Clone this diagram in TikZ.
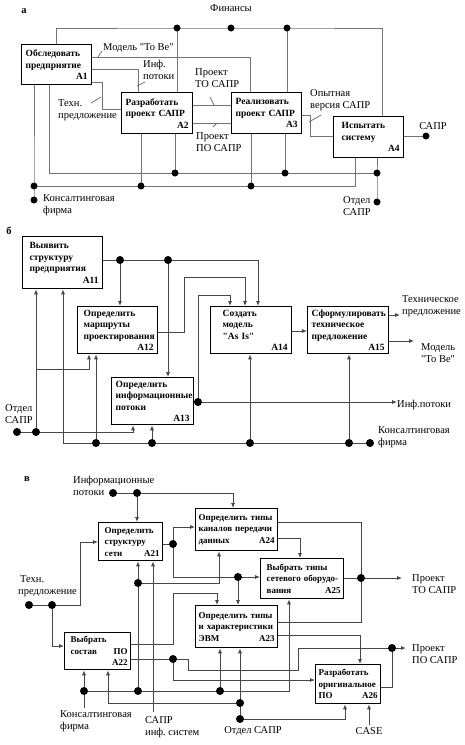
\documentclass[tikz,border=0pt]{standalone}
\usepackage{fontspec}
\setmainfont{Liberation Serif}[Ligatures=TeXOff]
\usetikzlibrary{arrows.meta}

\tikzset{
  blk/.style={draw, line width=1.3pt, anchor=north west, inner xsep=4pt,
    inner ysep=1pt, align=left, font=\bfseries\fontsize{9.5}{11.5}\selectfont},
  blkc/.style={blk, inner xsep=3pt, font=\bfseries\fontsize{9}{11.5}\selectfont},
  lbl/.style={inner sep=0pt, align=left, font=\fontsize{10.5}{12.5}\selectfont},
  ptag/.style={inner sep=0pt, font=\bfseries\fontsize{10.5}{12}\selectfont},
  ln/.style={draw=black!55, line width=0.8pt},
  lnd/.style={draw=black!72, line width=0.8pt},
  arr/.style={lnd, -{Latex[length=5pt,width=4pt]}}
}
\newcommand{\idr}[1]{\leavevmode\hfill #1}

\begin{document}
\begin{tikzpicture}[x=1pt, y=-1pt]
  \useasboundingbox (0,0) rectangle (465,745);
  \fill[white] (0,0) rectangle (465,745);

  % --- а ---
  \node[ptag] (pa) at (24,11) {а};
  \node[lbl] (fin) at (231,8) {Финансы};
  \node[blk, text width=62pt, minimum height=40pt] (A1) at (21,44) {Обследовать\\предприятие\\\idr{A1}};
  \node[blk, text width=63pt, minimum height=41pt] (A2) at (121,92) {Разработать\\проект~САПР\\\idr{A2}};
  \node[blk, text width=62pt, minimum height=41pt] (A3) at (231,92) {Реализовать\\проект~САПР\\\idr{A3}};
  \node[blk, text width=62pt, minimum height=41pt] (A4) at (333,116) {\hspace*{4pt}Испытать\\\hspace*{4pt}систему\\\idr{A4}};

  \node[lbl, anchor=west] (mtb) at (103,48) {Модель "To Be"};
  \node[lbl, anchor=north west] (inf) at (143,60) {Инф.\\потоки};
  \node[lbl, anchor=north west] (tex) at (58,99) {Техн.\\предложение};
  \node[lbl, anchor=north west] (pto) at (195,68) {Проект\\ТО САПР};
  \node[lbl, anchor=north west] (ppo) at (196,132) {Проект\\ПО САПР};
  \node[lbl, anchor=north west] (opv) at (310,89) {Опытная\\версия САПР};
  \node[lbl] (sap) at (433,126) {САПР};
  \node[lbl, anchor=north west] (kfa) at (43,194) {Консалтинговая\\фирма};
  \node[lbl, anchor=north west] (ota) at (343,196) {Отдел\\САПР};

  \coordinate (fin1) at (177,28);
  \coordinate (fin2) at (231,28);
  \coordinate (fin3) at (287,28);
  \coordinate (sapr) at (426,136);
  \coordinate (otd) at (377,202);
  \coordinate (ja) at (377,173);
  \coordinate (mb2) at (175,173);
  \coordinate (mb3) at (285,173);
  \coordinate (kf) at (34,200);
  \coordinate (kb1) at (34,186);
  \coordinate (kb2) at (141,186);
  \coordinate (kb3) at (251,186);

  \draw[ln] (A1.north) |- (fin1) -- (fin3) -| ([xshift=14pt]A4.north);
  \draw[ln] (fin1) -- (fin1 |- A2.north);
  \draw[ln] (fin3) -- (fin3 |- A3.north);
  \draw[ln] ([yshift=-13pt]A1.north east) -| ([xshift=19pt]A3.north west);
  \draw[ln] ([yshift=-25pt]A1.north east) -| ([xshift=17pt]A2.north west);
  \draw[ln] ([yshift=-38pt]A1.north east) -- ++(10,0) |- ([yshift=-17pt]A2.north west);
  \draw[ln] ([yshift=-13pt]A2.north east) -- ([yshift=-13pt]A3.north west);
  \draw[ln] ([yshift=-31pt]A2.north east) -- ([yshift=-31pt]A3.north west);
  \draw[ln] ([yshift=-23pt]A3.north east) -- ++(8,0) |- ([yshift=-20pt]A4.north west);
  \draw[ln] ([yshift=-20pt]A4.north east) -- (sapr);
  \draw[ln] ([xshift=28pt]A1.south west) |- (ja);
  \draw[ln] (otd) -- (ja) -- (ja |- A4.south);
  \draw[ln] (mb2) -- (mb2 |- A2.south);
  \draw[ln] (mb3) -- (mb3 |- A3.south);
  \draw[ln] (kf) -- (kb1) -- (kb1 |- A1.south);
  \draw[ln] (kb1) -| ([xshift=22pt]A4.south west);
  \draw[ln] (kb2) -- (kb2 |- A2.south);
  \draw[ln] (kb3) -- (kb3 |- A3.south);
  % label ticks
  \foreach \a/\b/\c/\d in {98/57/102/51, 137/86/145/82, 91/103/101/97,
      210/97/214/105, 213/127/217/123, 309/122/321/115}
    \draw[ln] (\a,\b) -- (\c,\d);
  \foreach \d in {fin1,fin2,fin3,sapr,otd,ja,mb2,mb3,kf,kb1,kb2,kb3}
    \fill (\d) circle (3.5pt);

  % --- б ---
  \node[ptag] (pb) at (9,231) {б};
  \node[blk, text width=72pt, minimum height=52pt] (A11) at (22,236) {\hspace*{3pt}Выявить\\\hspace*{3pt}структуру\\\hspace*{3pt}предприятия\\\idr{A11}};
  \node[blk, text width=72pt, minimum height=47pt] (A12) at (77,306) {\hspace*{2pt}Определить\\\hspace*{2pt}маршруты\\\hspace*{2pt}проектирования\\\idr{A12}};
  \node[blk, text width=74pt, minimum height=47pt] (A13) at (111,377) {Определить\\информационные\\потоки\\\idr{A13}};
  \node[blk, text width=73pt, minimum height=47pt] (A14) at (210,306) {\hspace*{8pt}Создать\\\hspace*{8pt}модель\\\hspace*{8pt}"As Is"\\\idr{A14}};
  \node[blk, text width=73pt, minimum height=47pt] (A15) at (307,306) {Сформулировать\\техническое\\предложение\\\idr{A15}};

  \node[lbl, anchor=north west] (otb) at (5,404) {Отдел\\САПР};
  \node[lbl, anchor=north west] (tpb) at (402,295) {Техническое\\предложение};
  \node[lbl, anchor=north west] (mtbb) at (421,343) {Модель\\"To Be"};
  \node[lbl, anchor=west] (ipb) at (397,405) {Инф.потоки};
  \node[lbl, anchor=north west] (kfb) at (378,426) {Консалтинговая\\фирма};

  \coordinate (b1) at (120,260);
  \coordinate (b2) at (168,260);
  \coordinate (b3) at (198,402);
  \coordinate (od1) at (17,432);
  \coordinate (od2) at (36,432);
  \coordinate (kf2) at (370,443);
  \coordinate (c1) at (96,443);
  \coordinate (c2) at (152,443);
  \coordinate (c3) at (250,443);
  \coordinate (c4) at (349,443);
  \coordinate (tpr) at (400,315);
  \coordinate (tbe) at (414,341);

  \draw[arr] ([yshift=-24pt]A11.north east) -| ([xshift=48pt]A14.north west);
  \draw[arr] (b1) -- (b1 |- A12.north);
  \draw[arr] (b2) -- (b2 |- A13.north);
  \draw[arr] ([yshift=-26pt]A12.north east) -- ++(26,0) -- ++(0,-55) -| ([xshift=35pt]A14.north west);
  \draw[lnd] ([yshift=-25pt]A13.north east) -- (b3);
  \draw[arr] (b3) -- ++(0,-107) -| ([xshift=20pt]A14.north west);
  \draw[arr] (b3) -- (b3 -| ipb.west);
  \draw[arr] ([yshift=-25pt]A14.north east) -- ([yshift=-25pt]A15.north west);
  \draw[arr] ([yshift=-9pt]A15.north east) -- (tpr);
  \draw[arr] ([yshift=-35pt]A15.north east) -- (tbe);
  \draw[arr] (od1) -| ([xshift=22pt]A13.south west);
  \draw[arr] (od2) -- (od2 |- A11.south);
  \draw[arr] ([yshift=63pt]od2) -| ([xshift=12pt]A12.south west);
  \draw[arr] (kf2) -| ([xshift=41pt]A11.south west);
  \foreach \c/\b in {c1/A12,c2/A13,c3/A14,c4/A15}
    \draw[arr] (\c) -- (\c |- \b.south);
  \foreach \d in {b1,b2,b3,od1,od2,kf2,c1,c2,c3,c4}
    \fill (\d) circle (4pt);

  % --- в ---
  \node[ptag] (pc) at (27,479) {в};
  \node[blkc, text width=58pt, minimum height=38pt] (A21) at (98,522) {\hspace*{3pt}Определить\\\hspace*{3pt}структуру\\\hspace*{3pt}сети\hfill A21};
  \node[blkc, text width=76pt, minimum height=42pt] (A24) at (195,508) {Определить~типы\\каналов~передачи\\данных\hfill A24\hspace*{3pt}};
  \node[blkc, text width=77pt, minimum height=40pt] (A25) at (260,558) {\hspace*{3pt}Выбрать~типы\\\hspace*{3pt}сетевого~оборудо-\\\hspace*{3pt}вания\hfill A25\hspace*{3pt}};
  \node[blkc, text width=76pt, minimum height=42pt] (A23) at (195,605) {Определить~типы\\и~характеристики\\ЭВМ\hfill A23\hspace*{3pt}};
  \node[blkc, text width=60pt, minimum height=37pt] (A22) at (64,632) {\hspace*{3pt}Выбрать\\\hspace*{3pt}состав\hfill ПО\\\idr{A22}};
  \node[blkc, text width=59pt, minimum height=39pt] (A26) at (315,664) {Разработать\\оригинальное\\ПО\hfill A26};

  \node[lbl, anchor=north west] (ipv) at (73,476) {Информационные\\потоки};
  \node[lbl, anchor=north west] (tpv) at (18,575) {\hspace*{2pt}Техн.\\предложение};
  \node[lbl, anchor=north west] (kfv) at (60,710) {Консалтинговая\\фирма};
  \node[lbl, anchor=north west] (sisv) at (145,716) {САПР\\инф.\ систем};
  \node[lbl] (otv) at (253,731) {Отдел САПР};
  \node[lbl] (casev) at (369,731) {CASE};
  \node[lbl, anchor=north west] (ptov) at (412,574) {Проект\\ТО САПР};
  \node[lbl, anchor=north west] (ppov) at (412,644) {Проект\\ПО САПР};

  \coordinate (ip1) at (113,493);
  \coordinate (ip2) at (137,493);
  \coordinate (tp1) at (29,605);
  \coordinate (tp2) at (52,605);
  \coordinate (d21) at (173,544);
  \coordinate (d25) at (238,577);
  \coordinate (m21) at (138,583);
  \coordinate (m22) at (138,691);
  \coordinate (dto) at (361,578);
  \coordinate (d22) at (173,659);
  \coordinate (dpo) at (392,648);
  \coordinate (e1) at (84,691);
  \coordinate (e3) at (220,691);
  \coordinate (o1) at (240,703);
  \coordinate (o2) at (240,719);
  \coordinate (kf3) at (84,708);
  \coordinate (sis) at (153,712);
  \coordinate (case) at (369,725);
  \coordinate (pte) at (402,578);
  \coordinate (ppe) at (406,648);

  \draw[arr] (ip1) -| ([xshift=38pt]A24.north west);
  \draw[arr] (ip2) -- (ip2 |- A21.north);
  \draw[arr] (tp1) -- ++(51,0) |- ([yshift=-20pt]A21.north west);
  \draw[arr] (tp2) |- ([yshift=-14pt]A22.north west);
  \draw[lnd] ([yshift=-22pt]A21.north east) -- (d21);
  \draw[arr] (d21) |- ([yshift=-19pt]A24.north west);
  \draw[lnd] (d21) |- (d25);
  \draw[arr] (d25) -- (d25 -| A25.west);
  \draw[arr] (d25) -- (d25 |- A23.north);
  \draw[arr] (m22) -- (m22 |- A21.south);
  \draw[arr] (m21) -| ([xshift=24pt]A24.south west);
  \draw[arr] (sis) -- (sis |- A21.south);
  \draw[lnd] ([yshift=-14pt]A24.north east) -| (dto);
  \draw[arr] ([yshift=-30pt]A24.north east) -| ([xshift=40pt]A25.north west);
  \draw[lnd] (A25.east |- dto) -- (dto);
  \draw[arr] (dto) -- (pte);
  \draw[lnd] ([yshift=-17pt]A23.north east) -| (dto);
  \draw[arr] ([yshift=-30pt]A23.north east) -| ([xshift=45pt]A26.north west);
  \draw[arr] ([yshift=-12pt]A22.north east) -- ++(42,0) -- ++(0,-51) -| ([xshift=22pt]A23.north west);
  \draw[lnd] ([yshift=-27pt]A22.north east) -- (d22);
  \draw[arr] (d22) |- ([yshift=-16pt]A26.north west);
  \draw[lnd] (d22) -- ++(15,0) -- ++(0,11) -- ++(110,0) |- (dpo);
  \draw[lnd] ([yshift=-23pt]A26.north east) -| (dpo);
  \draw[arr] (dpo) -- (ppe);
  \draw[arr] (kf3) -- (kf3 |- A22.south);
  \draw[arr] (e1) -| ([xshift=29pt]A25.south west);
  \draw[arr] (e3) -- (e3 |- A23.south);
  \draw[arr] (o2) -- (o2 |- A23.south);
  \draw[arr] (o1) -| ([xshift=44pt]A22.south west);
  \draw[arr] (o2) -| ([xshift=30pt]A26.south west);
  \draw[arr] (case) -- (case |- A26.south);
  \foreach \d in {ip1,ip2,tp1,tp2,d21,d25,m21,m22,dto,d22,dpo,e1,e3,o1,o2}
    \fill (\d) circle (4pt);
\end{tikzpicture}
\end{document}
